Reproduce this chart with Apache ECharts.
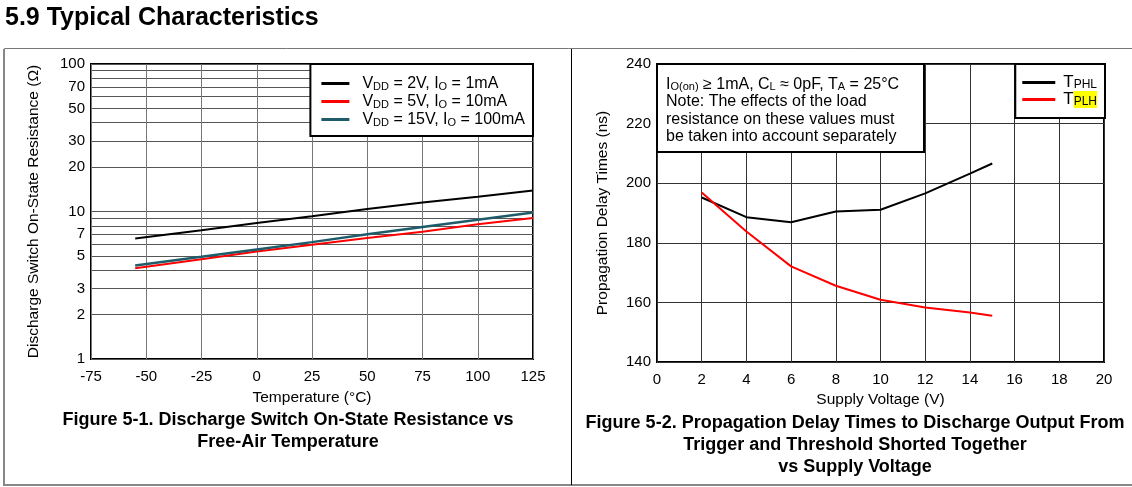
<!DOCTYPE html>
<html>
<head>
<meta charset="utf-8">
<script src="https://cdn.jsdelivr.net/npm/echarts@6.0.0/dist/echarts.min.js"></script>
<style>
  html, body { margin: 0; padding: 0; background: #fff; }
  #main { width: 1132px; height: 487px; }
</style>
</head>
<body>
<div id="main"></div>
<script>
// Figure 5-1 : on-state resistance vs temperature
var temps = [-55, -25, 0, 25, 50, 75, 100, 125];
var res2V = [6.55, 7.45, 8.35, 9.3, 10.4, 11.5, 12.6, 13.9];
var res5V = [4.13, 4.75, 5.35, 5.95, 6.6, 7.3, 8.2, 9.05];
var res15V = [4.3, 4.93, 5.53, 6.2, 7.0, 7.85, 8.8, 9.85];
var resGrid = [1, 2, 3, 4, 5, 6, 7, 8, 9, 10, 20, 30, 40, 50, 60, 70, 80, 90, 100];
var resLabels = [1, 2, 3, 5, 7, 10, 20, 30, 50, 70, 100];

// Figure 5-2 : propagation delay vs supply voltage
var vdd = [2, 4, 6, 8, 10, 12, 14, 15];
var tphl = [195.2, 188.6, 186.9, 190.5, 191.1, 196.6, 203.2, 206.6];
var tplh = [196.9, 183.8, 172.1, 165.6, 160.9, 158.3, 156.6, 155.5];

var FONT = '"Liberation Sans", Arial, sans-serif';

function zip(xs, ys) {
    return xs.map(function(x, i) { return [x, ys[i]]; });
}

function subStyles(size, pad) {
    return {
        sub: { fontSize: size, fontFamily: FONT, color: '#000', lineHeight: size, padding: [pad, 0, 0, 0] },
        hl: { fontSize: size, fontFamily: FONT, color: '#000', lineHeight: size, padding: [pad, 0, 0, 0], backgroundColor: '#ffff00' }
    };
}

var legendNames = {
    'r2': 'V{sub|DD} = 2V, I{sub|O} = 1mA',
    'r5': 'V{sub|DD} = 5V, I{sub|O} = 10mA',
    'r15': 'V{sub|DD} = 15V, I{sub|O} = 100mA',
    'tphl': 'T{sub|PHL}',
    'tplh': 'T{hl|PLH}'
};

var chart = echarts.init(document.getElementById('main'));

var option = {
    animation: false,
    textStyle: { fontFamily: FONT },
    grid: [
        { left: 91, top: 64, width: 442, height: 295, show: true, borderColor: '#000', borderWidth: 2, backgroundColor: 'transparent' },
        { left: 657, top: 64, width: 447, height: 298, show: true, borderColor: '#000', borderWidth: 2, backgroundColor: 'transparent' }
    ],
    legend: [{
        data: ['r2', 'r5', 'r15'],
        orient: 'vertical',
        right: 1132 - 533,
        top: 64,
        padding: [11, 8, 8, 11],
        itemGap: 1,
        itemWidth: 28,
        itemHeight: 3,
        icon: 'rect',
        backgroundColor: '#fff',
        borderColor: '#000',
        borderWidth: 2,
        z: 10,
        formatter: function(name) { return legendNames[name]; },
        textStyle: { fontSize: 16, color: '#000', fontFamily: FONT, padding: [0, 0, 0, 8], rich: subStyles(11, 6) }
    }, {
        data: ['tphl', 'tplh'],
        orient: 'vertical',
        right: 1132 - 1105,
        top: 64,
        padding: [10, 8, 10, 7],
        itemGap: 0,
        itemWidth: 33,
        itemHeight: 3,
        icon: 'rect',
        backgroundColor: '#fff',
        borderColor: '#000',
        borderWidth: 2,
        z: 10,
        formatter: function(name) { return legendNames[name]; },
        textStyle: { fontSize: 17, color: '#000', fontFamily: FONT, padding: [0, 0, 0, 3], rich: subStyles(12, 5) }
    }],
    xAxis: [{
        gridIndex: 0,
        type: 'value',
        min: -75,
        max: 125,
        interval: 25,
        name: 'Temperature (°C)',
        nameLocation: 'middle',
        nameGap: 31,
        nameTextStyle: { fontSize: 15.5, color: '#000' },
        axisLine: { show: false },
        axisTick: { show: false },
        axisLabel: { fontSize: 15, color: '#000', margin: 10 },
        splitLine: { lineStyle: { color: '#777', width: 1 } }
    }, {
        gridIndex: 1,
        type: 'value',
        min: 0,
        max: 20,
        interval: 2,
        name: 'Supply Voltage (V)',
        nameLocation: 'middle',
        nameGap: 27,
        nameTextStyle: { fontSize: 15.5, color: '#000' },
        axisLine: { show: false },
        axisTick: { show: false },
        axisLabel: { fontSize: 15, color: '#000', margin: 10 },
        splitLine: { lineStyle: { color: '#333', width: 1 } }
    }],
    yAxis: [{
        gridIndex: 0,
        type: 'log',
        logBase: 10,
        min: 1,
        max: 100,
        name: 'Discharge Switch On-State Resistance (Ω)',
        nameLocation: 'middle',
        nameGap: 49,
        nameTextStyle: { fontSize: 15.5, color: '#000' },
        axisLine: { show: false },
        axisTick: { show: false, customValues: resGrid },
        axisLabel: { fontSize: 15, color: '#000', margin: 6, customValues: resLabels },
        splitLine: { lineStyle: { color: '#555', width: 1 } }
    }, {
        gridIndex: 1,
        type: 'value',
        min: 140,
        max: 240,
        interval: 20,
        name: 'Propagation Delay Times (ns)',
        nameLocation: 'middle',
        nameGap: 46,
        nameTextStyle: { fontSize: 15.5, color: '#000' },
        axisLine: { show: false },
        axisTick: { show: false },
        axisLabel: { fontSize: 15, color: '#000', margin: 6 },
        splitLine: { lineStyle: { color: '#333', width: 1 } }
    }],
    series: [
        { name: 'r2', type: 'line', xAxisIndex: 0, yAxisIndex: 0, data: zip(temps, res2V), symbol: 'none', color: '#000', lineStyle: { width: 2 } },
        { name: 'r5', type: 'line', xAxisIndex: 0, yAxisIndex: 0, data: zip(temps, res5V), symbol: 'none', color: '#ff0000', lineStyle: { width: 2 } },
        { name: 'r15', type: 'line', xAxisIndex: 0, yAxisIndex: 0, data: zip(temps, res15V), symbol: 'none', color: '#1e5c6a', lineStyle: { width: 2.5 } },
        { name: 'tphl', type: 'line', xAxisIndex: 1, yAxisIndex: 1, data: zip(vdd, tphl), symbol: 'none', color: '#000', lineStyle: { width: 2 } },
        { name: 'tplh', type: 'line', xAxisIndex: 1, yAxisIndex: 1, data: zip(vdd, tplh), symbol: 'none', color: '#ff0000', lineStyle: { width: 2 } }
    ],
    graphic: [
        // page title
        { type: 'text', x: 5, y: 6, style: { text: '5.9 Typical Characteristics', font: 'bold 25px ' + FONT, fill: '#000' } },
        // frame around both figures
        { type: 'rect', shape: { x: 4.5, y: 48.5, width: 1140, height: 436 }, style: { fill: 'none', stroke: '#777', lineWidth: 1 } },
        { type: 'line', shape: { x1: 4, y1: 485, x2: 1132, y2: 485 }, style: { stroke: '#888', lineWidth: 2 } },
        { type: 'line', shape: { x1: 4, y1: 49, x2: 4, y2: 486 }, style: { stroke: '#888', lineWidth: 2 } },
        { type: 'line', shape: { x1: 571.5, y1: 49, x2: 571.5, y2: 485 }, style: { stroke: '#000', lineWidth: 1 } },
        // captions
        { type: 'text', x: 288, y: 409, style: { text: 'Figure 5-1. Discharge Switch On-State Resistance vs\nFree-Air Temperature', font: 'bold 18px ' + FONT, lineHeight: 22, textAlign: 'center', textVerticalAlign: 'top', fill: '#000' } },
        { type: 'text', x: 855, y: 412, style: { text: 'Figure 5-2. Propagation Delay Times to Discharge Output From\nTrigger and Threshold Shorted Together\nvs Supply Voltage', font: 'bold 18px ' + FONT, lineHeight: 22, textAlign: 'center', textVerticalAlign: 'top', fill: '#000' } },
        // note box on figure 5-2
        { type: 'rect', z: 10, shape: { x: 657, y: 64, width: 267, height: 88 }, style: { fill: '#fff', stroke: '#000', lineWidth: 2 } },
        { type: 'text', z: 11, x: 666, y: 75.5, style: {
            text: 'I{sub|O(on)} ≥ 1mA, C{sub|L} ≈ 0pF, T{sub|A} = 25°C\nNote: The effects of the load\nresistance on these values must\nbe taken into account separately',
            fontSize: 16, fontFamily: FONT, lineHeight: 17.5, fill: '#000', rich: subStyles(11, 6)
        } }
    ]
};

chart.setOption(option);
</script>
</body>
</html>
